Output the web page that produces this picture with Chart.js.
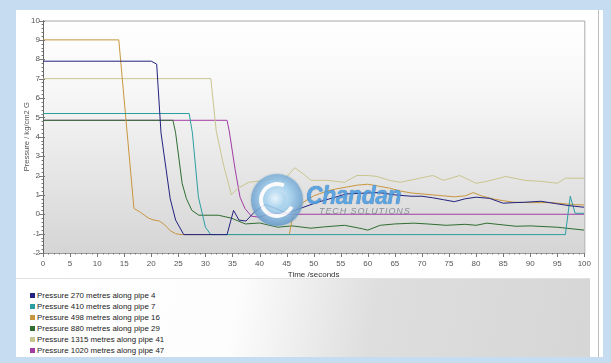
<!DOCTYPE html>
<html><head><meta charset="utf-8">
<script src="https://cdn.jsdelivr.net/npm/chart.js@4/dist/chart.umd.min.js"></script>
<style>
html,body{margin:0;padding:0;}
body{width:611px;height:363px;background:#c6dcf1;position:relative;overflow:hidden;font-family:"Liberation Sans",Arial,sans-serif;}
#panel{position:absolute;left:16px;top:10px;width:587px;height:347px;background:#fff;}
#edge{position:absolute;left:598px;top:10px;width:1px;height:347px;background:#bdbdbd;}
#wrap{position:absolute;left:16px;top:10px;width:581px;height:270px;}
#legend{position:absolute;left:16px;top:278px;width:574px;height:79px;background:linear-gradient(100deg,#ffffff 0%,#fdfdfd 38%,#dedede 62%,#d6d6d6 100%);border-top:1px solid #e2e2e2;box-sizing:border-box;padding-top:11px;}
.li{position:relative;height:11px;line-height:11px;font-size:7.9px;color:#222;padding-left:21px;white-space:nowrap;}
.li span{position:absolute;left:14px;top:3px;width:5px;height:5px;}
#logo{position:absolute;left:251px;top:174px;width:52px;height:52px;border-radius:50%;background:radial-gradient(circle at 50% 45%,#d8eefa 0%,#9fcfee 35%,#5a8fc4 78%,#6f7f98 100%);opacity:0.85;box-shadow:0 0 2px #8aa;}
#logo .arc{position:absolute;left:8px;top:8px;width:28px;height:28px;border-radius:50%;border:4px solid #fff;border-right-color:transparent;transform:rotate(-20deg);}
#logo .in{position:absolute;left:17px;top:17px;width:18px;height:18px;border-radius:50%;background:radial-gradient(circle at 40% 40%,#e8f6ff,#7fc0ea);}
#brand{position:absolute;left:306px;top:181px;font:italic bold 25px "Liberation Sans",Arial,sans-serif;color:#4a9ce0;opacity:0.88;transform:scaleX(0.92);transform-origin:left top;letter-spacing:-0.5px;text-shadow:0 0 1px #2d5f95;}
#brand2{position:absolute;left:319px;top:206px;font:italic 9px "Liberation Sans",Arial,sans-serif;color:#7d8794;letter-spacing:0.9px;opacity:0.9;}
</style></head>
<body>
<div id="panel"></div>
<div id="edge"></div>
<div id="wrap"><canvas id="c"></canvas></div>
<div id="legend"></div>
<div id="logo"><div class="arc"></div><div class="in"></div></div>
<div id="brand">Chandan</div>
<div id="brand2">TECH SOLUTIONS</div>
<script>
// ---- data (time in seconds, pressure in kg/cm2 G) ----
const seriesLabels = [
  "Pressure 270 metres along pipe 4",
  "Pressure 410 metres along pipe 7",
  "Pressure 498 metres along pipe 16",
  "Pressure 880 metres along pipe 29",
  "Pressure 1315 metres along pipe 41",
  "Pressure 1020 metres along pipe 47"
];
const seriesColors = ["#22227f","#2c9ea2","#c8963e","#2f6d31","#c9c58f","#a13ca3"];

const t270 = [0,20,21,21.8,23.5,24.5,26,34,35.2,36.2,37.5,39,41,43,45,47.5,50.5,54,56,60,62,65,68,70,72,74,76,78,80,82.5,85,87,89,92,94.7,97,100];
const v270 = [7.9,7.9,7.75,4.2,0.8,-0.3,-1.05,-1.05,0.2,-0.3,-0.35,0.1,0.5,0.3,0.05,0.3,0.6,0.88,1.05,1.1,1.12,1.0,0.93,0.93,0.85,0.75,0.65,0.8,0.88,0.82,0.57,0.6,0.62,0.67,0.55,0.45,0.36];

const t410 = [0,27,27.6,28.7,30,31,96.5,97.4,98.3,100];
const v410 = [5.2,5.2,4.2,0.9,-0.67,-1.05,-1.05,0.93,0.05,0.05];

const t498 = [0,14,16.8,18,19.5,20.5,21.5,22.5,23.5,24.5,25.5,45.5,46,46.5,48,50,52,54,56,58,60,62,64,66,68,70,72,74,76,78,79.5,81,83,85,87,90,94,98,100];
const v498 = [9,9,0.3,0.1,-0.2,-0.3,-0.35,-0.55,-0.85,-1.0,-1.05,-1.05,-0.3,0.1,0.6,0.95,1.15,1.3,1.4,1.5,1.55,1.45,1.35,1.2,1.1,1.05,1.0,0.95,0.9,0.95,1.12,0.95,0.8,0.7,0.62,0.6,0.6,0.5,0.48];

const t880 = [0,24,24.5,25.7,26.5,27.5,28.8,32.4,34.8,37.4,40,43.4,46,49.5,52,55.7,59,60,62.3,65,68.5,71,74.5,78,80,82,85,87.4,90,95,100];
const v880 = [4.85,4.85,4.2,1.6,0.8,0.2,-0.05,-0.05,-0.2,-0.5,-0.45,-0.67,-0.6,-0.72,-0.65,-0.57,-0.75,-0.82,-0.57,-0.5,-0.46,-0.5,-0.57,-0.52,-0.57,-0.46,-0.55,-0.62,-0.6,-0.67,-0.82];

const t1315 = [0,31,32,33.3,34.8,36,38,41,42.5,44,46.5,48,49.5,52.5,55.7,58,60,61.7,64,66,69.6,72,74,77,80,82,85.5,89,92,95,96.5,100];
const v1315 = [7,7,4.3,2.6,1.0,1.34,1.65,1.75,1.85,1.6,2.4,2.1,1.75,1.75,1.65,2.0,2.0,1.95,1.75,1.65,1.86,2.0,1.75,2.0,1.6,1.7,1.95,1.75,1.7,1.6,1.86,1.86];

const t1020 = [0,34,34.4,35.5,36.4,37.3,38.5,40,42,45,100];
const v1020 = [4.85,4.85,4.3,2.3,0.88,0.3,-0.1,-0.15,0.05,0,0];

const xTicks = [0,5,10,15,20,25,30,35,40,45,50,55,60,65,70,75,80,85,90,95,100];
const yTicks = [-2,-1,0,1,2,3,4,5,6,7,8,9,10];

const times = [t270,t410,t498,t880,t1315,t1020];
const vals = [v270,v410,v498,v880,v1315,v1020];

const datasets = seriesLabels.map((lab,i)=>({
  label: lab,
  data: times[i].map((t,k)=>({x:t,y:vals[i][k]})),
  borderColor: seriesColors[i],
  backgroundColor: seriesColors[i],
  borderWidth: 1,
  pointRadius: 0,
  tension: 0,
  fill: false
}));

const bgPlugin = {
  id:'bg',
  beforeDraw(chart){
    const {ctx, chartArea:a} = chart;
    const g = ctx.createLinearGradient(0,a.top,0,a.bottom);
    g.addColorStop(0,'#ffffff');
    g.addColorStop(0.3,'#f7f7f7');
    g.addColorStop(1,'#d5d5d5');
    ctx.save(); ctx.fillStyle=g; ctx.fillRect(a.left,a.top,a.right-a.left,a.bottom-a.top); ctx.restore();
  },
  afterDraw(chart){
    const {ctx, chartArea:a, scales:{x,y}} = chart;
    ctx.save();
    ctx.strokeStyle='#a9a9a9'; ctx.lineWidth=1;
    ctx.beginPath();
    ctx.moveTo(a.left,a.top+0.5); ctx.lineTo(a.right+0.5,a.top+0.5); ctx.lineTo(a.right+0.5,a.bottom);
    ctx.stroke();
    ctx.strokeStyle='#777';
    for(let v=0; v<=100; v+=1){
      const px=Math.round(x.getPixelForValue(v))+0.5;
      const len = (v%5===0)?4:1.5;
      ctx.beginPath(); ctx.moveTo(px,a.bottom); ctx.lineTo(px,a.bottom+len); ctx.stroke();
    }
    for(let i=0;i<=60;i++){
      const v=-2+i*0.2;
      const py=Math.round(y.getPixelForValue(v))+0.5;
      const major = (i%5===0);
      ctx.beginPath(); ctx.moveTo(a.left-(major?4:1.5),py); ctx.lineTo(a.left+(major?2:0),py); ctx.stroke();
    }
    ctx.restore();
  }
};

const chart = new Chart(document.getElementById('c'),{
  type:'line',
  data:{datasets},
  options:{
    responsive:true, maintainAspectRatio:false, animation:false,
    layout:{padding:{left:0,right:8,top:10.5,bottom:0}},
    plugins:{legend:{display:false},tooltip:{enabled:false}},
    scales:{
      x:{type:'linear',min:0,max:100,
        afterBuildTicks(s){ s.ticks = xTicks.map(v=>({value:v})); },
        ticks:{color:'#555',font:{family:'Liberation Sans',size:8},padding:6,maxRotation:0,autoSkip:false},
        grid:{display:false,drawTicks:false},
        border:{display:true,color:'#9a9a9a'},
        title:{display:true,text:'Time /seconds',color:'#333',font:{family:'Liberation Sans',size:8},padding:{top:0,bottom:0}},
        afterFit(s){ s.height=27; }
      },
      y:{type:'linear',min:-2,max:10,
        afterBuildTicks(s){ s.ticks = yTicks.map(v=>({value:v})); },
        ticks:{color:'#555',font:{family:'Liberation Sans',size:8},padding:3},
        grid:{display:false,drawTicks:false},
        border:{display:true,color:'#666'},
        title:{display:true,text:'Pressure / kg/cm2 G',color:'#555',font:{family:'Liberation Sans',size:7.6},padding:{top:6,bottom:0}},
        afterFit(s){ s.width=27; }
      }
    }
  },
  plugins:[bgPlugin]
});

const leg = document.getElementById('legend');
chart.data.datasets.forEach(ds=>{
  const d=document.createElement('div'); d.className='li';
  const b=document.createElement('span'); b.style.background=ds.borderColor;
  d.appendChild(b); d.appendChild(document.createTextNode(ds.label));
  leg.appendChild(d);
});
</script>
</body></html>
